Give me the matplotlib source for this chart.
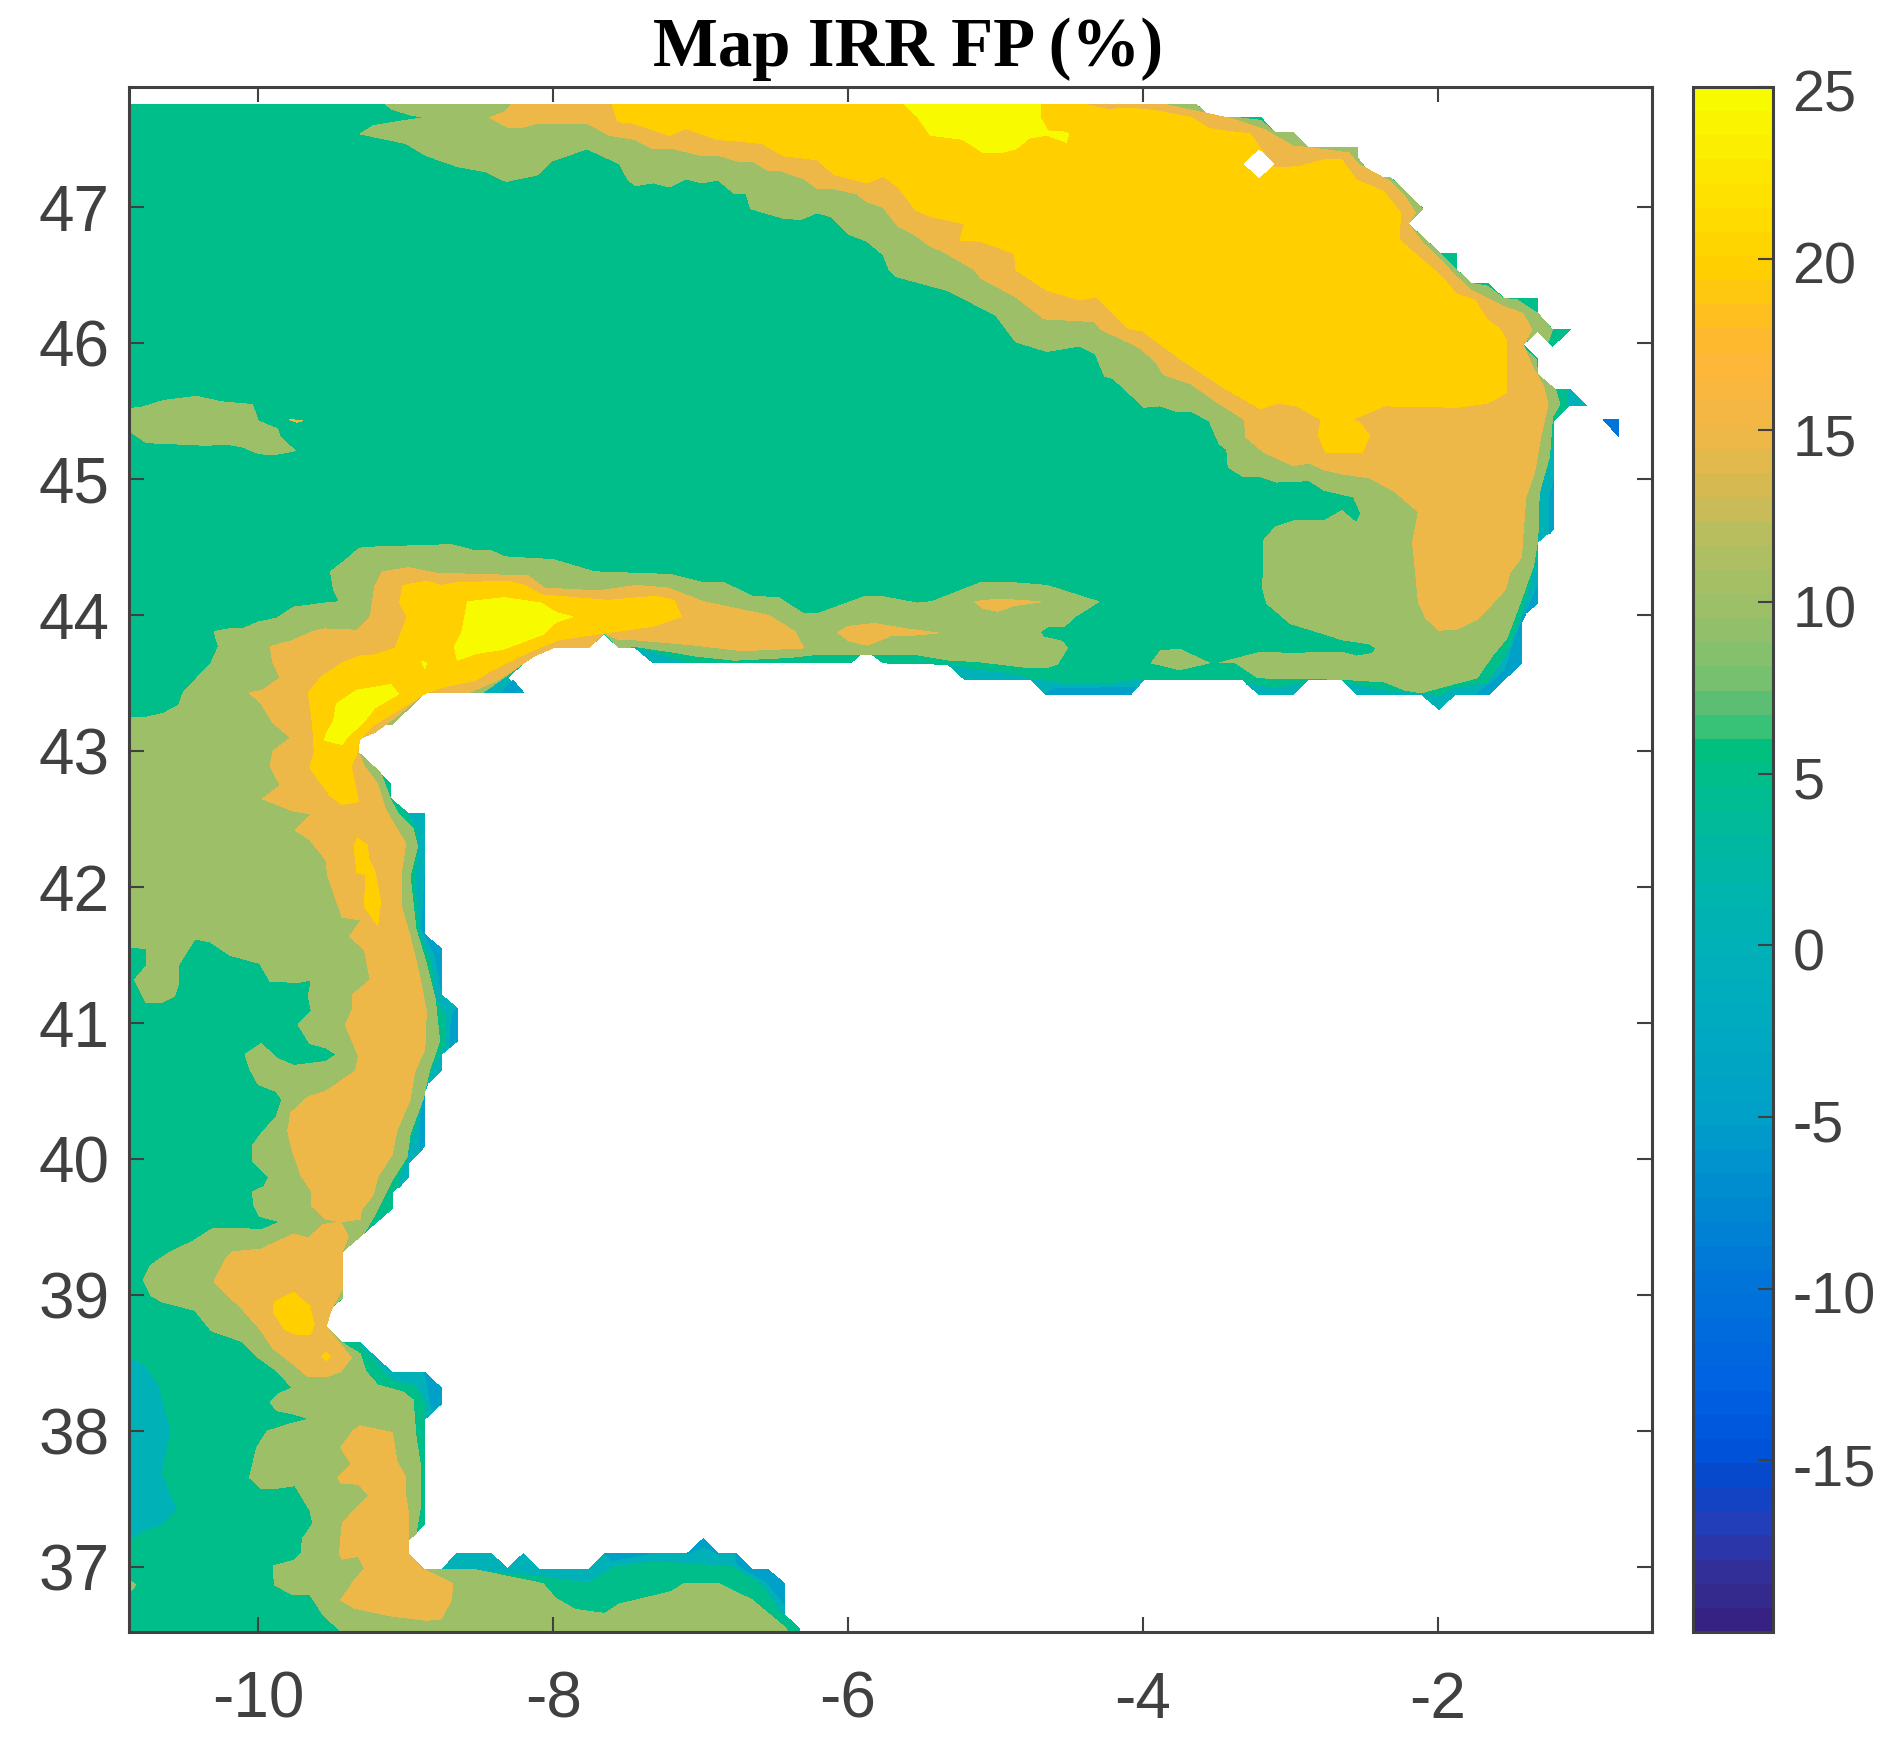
import matplotlib
matplotlib.use("Agg")
import matplotlib.pyplot as plt
from matplotlib.cm import ScalarMappable
from matplotlib.colors import LinearSegmentedColormap, Normalize
from matplotlib.transforms import ScaledTranslation

plt.rcParams['font.family'] = ['Liberation Sans', 'DejaVu Sans']
plt.rcParams['axes.unicode_minus'] = False

# Colour scale
CB_VALUES = [-20, -18.5, -17, -16, -15, -13, -10, -5, 0, 3, 5, 5.9, 6.2, 7, 8, 10, 12, 13, 15, 17, 18, 20, 22, 25]
CB_COLORS = ['#352282', '#33309A', '#2040BC', '#0A46C8', '#0052D8', '#0062E2', '#0074D8', '#00A0C8',
             '#00B2B8', '#00B8A0', '#00BE8A', '#00BF7C', '#2CC37A', '#55BE73', '#7CC06E', '#9CBF67',
             '#B5BE60', '#CCBB55', '#EEB848', '#FFB63C', '#FFBA2C', '#FFCF00', '#FFE000', '#F8FA00']
VMIN, VMAX = -20, 25
N_BANDS = 64

XTICKS = [-10, -8, -6, -4, -2]
YTICKS = [37, 38, 39, 40, 41, 42, 43, 44, 45, 46, 47]
CB_TICKS = [-15, -10, -5, 0, 5, 10, 15, 20, 25]

COAST = [(-10.88, 47.76), (-3.64, 47.76), (-3.54, 47.66), (-3.20, 47.66), (-3.10, 47.55), (-2.98, 47.55),
         (-2.88, 47.44), (-2.54, 47.44), (-2.54, 47.36), (-2.44, 47.22), (-2.32, 47.22), (-2.10, 46.99),
         (-2.20, 46.88), (-1.98, 46.66), (-1.87, 46.66), (-1.87, 46.54), (-1.77, 46.44), (-1.66, 46.44),
         (-1.55, 46.33), (-1.32, 46.33), (-1.32, 46.22), (-1.22, 46.10), (-1.10, 46.10), (-1.22, 45.98),
         (-1.32, 46.09), (-1.42, 45.99), (-1.32, 45.88), (-1.32, 45.77), (-1.21, 45.66), (-1.10, 45.66),
         (-0.99, 45.54), (-1.11, 45.54), (-1.21, 45.43), (-1.21, 44.64), (-1.32, 44.54), (-1.32, 44.09),
         (-1.43, 43.99), (-1.43, 43.65), (-1.65, 43.42), (-1.88, 43.42), (-1.99, 43.31), (-2.10, 43.42),
         (-2.55, 43.42), (-2.65, 43.53), (-2.88, 43.53), (-2.98, 43.42), (-3.21, 43.42), (-3.32, 43.53),
         (-3.99, 43.53), (-4.08, 43.42), (-4.66, 43.42), (-4.76, 43.53), (-5.21, 43.53), (-5.32, 43.64),
         (-5.76, 43.65), (-5.88, 43.75), (-5.98, 43.65), (-7.32, 43.65), (-7.44, 43.76), (-7.55, 43.76),
         (-7.66, 43.87), (-7.76, 43.76), (-8.09, 43.76), (-8.31, 43.54), (-8.20, 43.43), (-8.87, 43.43),
         (-9.09, 43.20), (-9.21, 43.20), (-9.32, 43.09), (-9.32, 42.99), (-9.10, 42.76), (-9.10, 42.65),
         (-8.98, 42.54), (-8.87, 42.54), (-8.87, 41.65), (-8.76, 41.55), (-8.76, 41.21), (-8.65, 41.11),
         (-8.65, 40.87), (-8.76, 40.77), (-8.76, 40.65), (-8.87, 40.54), (-8.87, 40.10), (-8.98, 39.97),
         (-8.98, 39.87), (-9.09, 39.76), (-9.09, 39.64), (-9.43, 39.32), (-9.43, 38.98), (-9.54, 38.87),
         (-9.54, 38.77), (-9.43, 38.65), (-9.31, 38.65), (-9.09, 38.43), (-8.87, 38.43), (-8.76, 38.32),
         (-8.76, 38.20), (-8.87, 38.09), (-8.87, 37.32), (-8.98, 37.20), (-8.98, 37.10), (-8.87, 36.98),
         (-8.76, 36.98), (-8.65, 37.10), (-8.42, 37.10), (-8.31, 36.99), (-8.20, 37.10), (-8.09, 36.98),
         (-7.76, 36.98), (-7.65, 37.10), (-7.09, 37.10), (-6.98, 37.21), (-6.88, 37.10), (-6.76, 37.10),
         (-6.65, 36.98), (-6.54, 36.98), (-6.43, 36.88), (-6.43, 36.65), (-6.33, 36.55), (-6.33, 36.52),
         (-10.88, 36.52)]

# Thin low-value fringes along the coast
ZERO_PATCHES = [
    [(-1.21, 45.26), (-1.21, 44.64), (-1.32, 44.54), (-1.32, 44.90), (-1.25, 45.07)],
    [(-1.32, 44.43), (-1.32, 44.09), (-1.43, 43.99), (-1.43, 43.65), (-1.65, 43.42), (-1.88, 43.42),
     (-1.99, 43.31), (-2.11, 43.42), (-1.99, 43.40), (-1.88, 43.46), (-1.66, 43.50), (-1.52, 43.73),
     (-1.42, 44.01)],
    [(-5.31, 43.64), (-5.21, 43.53), (-4.76, 43.53), (-4.90, 43.57), (-5.15, 43.60)],
    [(-4.76, 43.53), (-4.66, 43.42), (-4.08, 43.42), (-3.99, 43.53), (-4.20, 43.50), (-4.55, 43.50)],
    [(-3.30, 43.50), (-3.21, 43.42), (-2.98, 43.42), (-2.92, 43.50), (-3.10, 43.46)],
    [(-2.62, 43.50), (-2.55, 43.42), (-2.11, 43.42), (-2.40, 43.45)],
    [(-7.44, 43.76), (-7.32, 43.65), (-7.11, 43.65), (-7.30, 43.72)],
    [(-8.31, 43.54), (-8.20, 43.43), (-8.48, 43.43)],
    [(-8.98, 42.54), (-8.87, 42.54), (-8.87, 41.65), (-8.76, 41.55), (-8.76, 41.21), (-8.65, 41.11),
     (-8.65, 40.87), (-8.76, 40.77), (-8.76, 40.65), (-8.87, 40.54), (-8.87, 40.10), (-8.98, 39.97),
     (-8.98, 39.87), (-9.05, 39.79), (-8.96, 40.12), (-8.90, 40.35), (-8.87, 40.50), (-8.80, 40.70),
     (-8.72, 40.85), (-8.72, 41.05), (-8.80, 41.20), (-8.82, 41.45), (-8.90, 41.65), (-8.93, 42.00),
     (-8.91, 42.40)],
    [(-9.31, 38.65), (-9.09, 38.43), (-8.87, 38.43), (-8.76, 38.32), (-8.76, 38.20), (-8.87, 38.09),
     (-8.86, 38.21), (-8.93, 38.34), (-9.09, 38.38), (-9.20, 38.52)],
    [(-8.76, 36.98), (-8.65, 37.10), (-8.42, 37.10), (-8.31, 36.99), (-8.20, 37.10), (-8.09, 36.98),
     (-7.76, 36.98), (-7.65, 37.10), (-7.09, 37.10), (-6.98, 37.21), (-6.88, 37.10), (-6.76, 37.10),
     (-6.65, 36.98), (-6.54, 36.98), (-6.43, 36.88), (-6.43, 36.65), (-6.47, 36.70), (-6.57, 36.87),
     (-6.78, 37.01), (-7.30, 37.05), (-7.59, 37.01), (-7.77, 36.89), (-8.08, 36.94), (-8.50, 36.98)],
    [(-10.88, 38.54), (-10.78, 38.49), (-10.68, 38.33), (-10.60, 38.00), (-10.66, 37.69), (-10.56, 37.43),
     (-10.65, 37.32), (-10.78, 37.27), (-10.88, 37.20)],
    [(-1.11, 45.66), (-0.99, 45.54), (-1.11, 45.54)],
]
MINUS5_PATCHES = [
    [(-1.21, 44.99), (-1.21, 44.64), (-1.24, 44.60), (-1.24, 44.87)],
    [(-1.32, 44.21), (-1.32, 44.09), (-1.43, 43.99), (-1.43, 43.65), (-1.65, 43.42), (-1.73, 43.42),
     (-1.54, 43.60), (-1.46, 43.87)],
    [(-4.66, 43.42), (-4.08, 43.42), (-4.05, 43.47), (-4.60, 43.46)],
    [(-8.27, 43.52), (-8.20, 43.43), (-8.35, 43.43)],
    [(-8.87, 42.08), (-8.87, 41.65), (-8.76, 41.55), (-8.76, 41.25), (-8.80, 41.50), (-8.89, 41.70)],
    [(-8.65, 41.11), (-8.65, 40.87), (-8.70, 40.83), (-8.69, 41.05)],
    [(-8.87, 40.50), (-8.87, 40.10), (-8.90, 40.06), (-8.90, 40.30)],
    [(-8.87, 38.43), (-8.76, 38.32), (-8.76, 38.20), (-8.82, 38.16), (-8.85, 38.32)],
    [(-7.65, 37.10), (-7.35, 37.10), (-7.60, 37.05)],
    [(-7.09, 37.10), (-6.98, 37.21), (-6.88, 37.10), (-6.98, 37.15)],
    [(-6.76, 37.10), (-6.65, 36.98), (-6.54, 36.98), (-6.43, 36.88), (-6.43, 36.73), (-6.55, 36.89),
     (-6.75, 37.02)],
]
MINUS10_PATCHES = [
    [(-0.88, 45.44), (-0.77, 45.44), (-0.77, 45.31)],
]

KHAKI_NORTH = [(-9.14, 47.76), (-9.09, 47.72), (-8.97, 47.68), (-8.87, 47.66), (-9.00, 47.64), (-9.22, 47.60),
               (-9.31, 47.54), (-9.00, 47.47), (-8.86, 47.38), (-8.65, 47.30), (-8.45, 47.26), (-8.32, 47.19),
               (-8.10, 47.24), (-8.01, 47.34), (-7.77, 47.43), (-7.55, 47.32), (-7.49, 47.20), (-7.44, 47.16),
               (-7.32, 47.18), (-7.21, 47.15), (-7.10, 47.21), (-6.99, 47.18), (-6.88, 47.20), (-6.77, 47.10),
               (-6.69, 47.10), (-6.66, 46.99), (-6.44, 46.92), (-6.32, 46.91), (-6.21, 46.96), (-6.11, 46.93),
               (-5.99, 46.80), (-5.87, 46.75), (-5.76, 46.65), (-5.72, 46.54), (-5.67, 46.49), (-5.33, 46.39),
               (-5.00, 46.21), (-4.86, 46.01), (-4.65, 45.94), (-4.43, 45.98), (-4.32, 45.92), (-4.26, 45.76),
               (-4.20, 45.74), (-3.99, 45.53), (-3.88, 45.54), (-3.77, 45.50), (-3.67, 45.50), (-3.55, 45.43),
               (-3.48, 45.26), (-3.43, 45.22), (-3.42, 45.09), (-3.32, 45.02), (-3.20, 45.02), (-3.09, 44.98),
               (-2.87, 44.99), (-2.77, 44.92), (-2.57, 44.87), (-2.52, 44.75), (-2.55, 44.68), (-2.65, 44.77),
               (-2.76, 44.70), (-2.96, 44.70), (-3.10, 44.65), (-3.18, 44.55), (-3.18, 44.31), (-3.19, 44.21),
               (-3.16, 44.09), (-3.00, 43.94), (-2.70, 43.84), (-2.65, 43.82), (-2.46, 43.79), (-2.42, 43.76),
               (-2.44, 43.72), (-2.55, 43.70), (-2.65, 43.73), (-3.00, 43.72), (-3.20, 43.73), (-3.48, 43.65),
               (-3.37, 43.65), (-3.22, 43.54), (-2.65, 43.53), (-2.36, 43.51), (-2.22, 43.45), (-2.11, 43.43),
               (-2.01, 43.46), (-1.87, 43.50), (-1.73, 43.54), (-1.63, 43.70), (-1.53, 43.83), (-1.45, 44.06),
               (-1.35, 44.36), (-1.32, 44.55), (-1.31, 44.90), (-1.24, 45.17), (-1.22, 45.46), (-1.17, 45.55),
               (-1.20, 45.66), (-1.32, 45.77), (-1.33, 45.88), (-1.40, 45.95), (-1.42, 45.99), (-1.32, 46.09),
               (-1.25, 46.01), (-1.22, 46.10), (-1.32, 46.22), (-1.46, 46.32), (-1.55, 46.33), (-1.66, 46.42),
               (-1.77, 46.44), (-1.87, 46.54), (-1.98, 46.66), (-2.20, 46.88), (-2.10, 46.99), (-2.32, 47.22),
               (-2.44, 47.22), (-2.54, 47.36), (-2.54, 47.44), (-2.88, 47.44), (-2.98, 47.55), (-3.10, 47.55),
               (-3.20, 47.64), (-3.36, 47.66), (-3.54, 47.66), (-3.64, 47.76)]

KHAKI_IBERIA = [(-9.32, 44.49), (-9.28, 44.50), (-8.69, 44.52), (-8.55, 44.48), (-8.43, 44.48), (-8.33, 44.43),
                (-8.00, 44.41), (-7.72, 44.32), (-7.20, 44.30), (-6.98, 44.24), (-6.84, 44.24), (-6.65, 44.14),
                (-6.47, 44.13), (-6.30, 44.01), (-6.21, 44.01), (-5.88, 44.14), (-5.78, 44.14), (-5.53, 44.09),
                (-5.43, 44.10), (-5.10, 44.24), (-4.88, 44.24), (-4.65, 44.22), (-4.30, 44.10), (-4.46, 43.99),
                (-4.53, 43.92), (-4.64, 43.92), (-4.70, 43.875), (-4.67, 43.84), (-4.55, 43.81), (-4.51, 43.76),
                (-4.58, 43.64), (-4.64, 43.62), (-4.81, 43.62), (-5.12, 43.66), (-5.31, 43.67), (-5.53, 43.71),
                (-5.78, 43.71), (-6.23, 43.71), (-6.40, 43.69), (-6.77, 43.67), (-7.03, 43.70), (-7.19, 43.73),
                (-7.44, 43.77), (-7.55, 43.76), (-7.65, 43.87), (-7.76, 43.76), (-8.09, 43.76), (-8.20, 43.65),
                (-8.31, 43.56), (-8.48, 43.43), (-8.87, 43.43), (-9.09, 43.20), (-9.21, 43.20), (-9.32, 43.09),
                (-9.32, 42.99), (-9.17, 42.84), (-9.10, 42.64), (-9.05, 42.54), (-8.95, 42.43), (-8.92, 42.30),
                (-8.97, 42.08), (-8.93, 41.69), (-8.86, 41.44), (-8.80, 41.18), (-8.77, 40.87), (-8.84, 40.65),
                (-8.88, 40.45), (-8.97, 40.19), (-8.99, 40.02), (-9.09, 39.85), (-9.19, 39.63), (-9.28, 39.46),
                (-9.43, 39.32), (-9.43, 38.98), (-9.51, 38.91), (-9.54, 38.87), (-9.54, 38.77), (-9.43, 38.65),
                (-9.31, 38.57), (-9.27, 38.44), (-9.19, 38.34), (-9.02, 38.29), (-8.95, 38.23), (-8.93, 37.96),
                (-8.90, 37.75), (-8.90, 37.44), (-8.93, 37.25), (-8.98, 37.20), (-8.98, 37.10), (-8.87, 36.98),
                (-8.52, 36.98), (-8.07, 36.88), (-7.98, 36.77), (-7.85, 36.69), (-7.65, 36.66), (-7.55, 36.73),
                (-7.20, 36.82), (-7.11, 36.88), (-6.88, 36.88), (-6.65, 36.76), (-6.43, 36.56), (-6.40, 36.52),
                (-9.43, 36.52), (-9.56, 36.65), (-9.65, 36.80), (-9.77, 36.80), (-9.89, 36.87), (-9.90, 37.01),
                (-9.76, 37.05), (-9.71, 37.10), (-9.70, 37.21), (-9.63, 37.32), (-9.65, 37.42), (-9.75, 37.60),
                (-9.88, 37.58), (-9.98, 37.58), (-10.06, 37.66), (-10.01, 37.88), (-9.94, 38.00), (-9.80, 38.05),
                (-9.65, 38.09), (-9.77, 38.13), (-9.87, 38.15), (-9.92, 38.21), (-9.87, 38.27), (-9.77, 38.32),
                (-9.87, 38.44), (-10.01, 38.55), (-10.11, 38.66), (-10.32, 38.74), (-10.43, 38.89), (-10.65, 38.95),
                (-10.73, 39.00), (-10.78, 39.11), (-10.73, 39.22), (-10.61, 39.31), (-10.44, 39.40), (-10.31, 39.49),
                (-10.09, 39.49), (-9.98, 39.48), (-9.85, 39.54), (-9.99, 39.58), (-10.03, 39.66), (-10.04, 39.76),
                (-9.96, 39.80), (-9.93, 39.87), (-10.04, 39.99), (-10.04, 40.10), (-9.98, 40.19), (-9.88, 40.31),
                (-9.84, 40.44), (-9.88, 40.50), (-10.00, 40.55), (-10.06, 40.67), (-10.09, 40.77), (-9.98, 40.85),
                (-9.87, 40.74), (-9.76, 40.69), (-9.54, 40.72), (-9.47, 40.77), (-9.54, 40.82), (-9.65, 40.85),
                (-9.73, 40.99), (-9.64, 41.09), (-9.66, 41.20), (-9.64, 41.32), (-9.73, 41.30), (-9.92, 41.31),
                (-9.99, 41.44), (-10.19, 41.50), (-10.33, 41.60), (-10.43, 41.62), (-10.54, 41.43), (-10.54, 41.29),
                (-10.57, 41.20), (-10.66, 41.15), (-10.76, 41.15), (-10.84, 41.32), (-10.76, 41.42), (-10.76, 41.55),
                (-10.88, 41.56), (-10.88, 43.25), (-10.76, 43.25), (-10.64, 43.28), (-10.54, 43.34), (-10.51, 43.43),
                (-10.32, 43.65), (-10.27, 43.77), (-10.30, 43.88), (-10.20, 43.90), (-10.11, 43.90), (-10.00, 43.95),
                (-9.87, 43.98), (-9.76, 44.06), (-9.55, 44.09), (-9.45, 44.10), (-9.49, 44.19), (-9.51, 44.32),
                (-9.38, 44.43)]

KHAKI_WEST = [(-10.88, 45.52), (-10.79, 45.53), (-10.64, 45.58), (-10.42, 45.61), (-10.25, 45.57), (-10.04, 45.55),
              (-10.00, 45.43), (-9.87, 45.37), (-9.85, 45.31), (-9.75, 45.21), (-9.90, 45.18), (-10.00, 45.19),
              (-10.11, 45.24), (-10.23, 45.26), (-10.35, 45.25), (-10.76, 45.27), (-10.88, 45.36)]
KHAKI_LENS = [(-3.88, 43.74), (-3.75, 43.75), (-3.55, 43.65), (-3.75, 43.60), (-3.94, 43.65)]
KHAKI_CORNER = [(-10.88, 36.91), (-10.83, 36.87), (-10.88, 36.81)]

ORANGE_NORTH = [(-8.28, 47.76), (-8.33, 47.70), (-8.43, 47.66), (-8.31, 47.59), (-8.20, 47.59), (-8.10, 47.62),
                (-7.77, 47.62), (-7.62, 47.53), (-7.45, 47.50), (-7.32, 47.43), (-7.18, 47.43), (-6.99, 47.38),
                (-6.87, 47.38), (-6.75, 47.34), (-6.65, 47.34), (-6.54, 47.27), (-6.46, 47.27), (-6.30, 47.21),
                (-6.21, 47.14), (-6.11, 47.14), (-5.94, 47.10), (-5.87, 47.04), (-5.76, 47.00), (-5.66, 46.86),
                (-5.55, 46.80), (-5.45, 46.72), (-5.33, 46.66), (-5.14, 46.54), (-5.10, 46.48), (-4.86, 46.34),
                (-4.67, 46.18), (-4.33, 46.16), (-4.28, 46.10), (-4.08, 46.00), (-4.01, 45.96), (-3.91, 45.86),
                (-3.86, 45.77), (-3.67, 45.70), (-3.50, 45.57), (-3.31, 45.44), (-3.30, 45.31), (-3.18, 45.20),
                (-2.98, 45.10), (-2.87, 45.12), (-2.77, 45.07), (-2.65, 45.04), (-2.46, 45.01), (-2.29, 44.91),
                (-2.13, 44.76), (-2.17, 44.54), (-2.15, 44.33), (-2.13, 44.10), (-2.08, 43.98), (-1.99, 43.89),
                (-1.86, 43.90), (-1.73, 43.97), (-1.65, 44.06), (-1.54, 44.19), (-1.51, 44.31), (-1.43, 44.43),
                (-1.42, 44.60), (-1.40, 44.87), (-1.34, 45.06), (-1.30, 45.31), (-1.25, 45.55), (-1.28, 45.68),
                (-1.36, 45.84), (-1.42, 45.99), (-1.36, 46.10), (-1.42, 46.22), (-1.55, 46.27), (-1.77, 46.39),
                (-1.87, 46.49), (-1.97, 46.60), (-2.10, 46.74), (-2.20, 46.88), (-2.15, 46.96), (-2.22, 47.08),
                (-2.32, 47.19), (-2.54, 47.32), (-2.60, 47.40), (-2.87, 47.44), (-2.98, 47.45), (-3.17, 47.57),
                (-3.39, 47.65), (-3.56, 47.69), (-3.74, 47.73), (-3.86, 47.76)]

ORANGE_IBERIA = [(-9.16, 44.32), (-8.98, 44.35), (-8.79, 44.31), (-8.17, 44.29), (-8.06, 44.20), (-7.69, 44.18),
                 (-7.43, 44.22), (-7.22, 44.20), (-6.98, 44.10), (-6.54, 44.00), (-6.36, 43.88), (-6.30, 43.76),
                 (-6.72, 43.74), (-7.03, 43.78), (-7.44, 43.82), (-7.55, 43.82), (-7.66, 43.87), (-7.76, 43.76),
                 (-8.00, 43.76), (-8.13, 43.70), (-8.38, 43.52), (-8.58, 43.43), (-8.87, 43.43), (-9.07, 43.25),
                 (-9.21, 43.14), (-9.32, 43.09), (-9.32, 42.99), (-9.28, 42.89), (-9.19, 42.76), (-9.14, 42.58),
                 (-9.11, 42.52), (-9.00, 42.32), (-9.03, 42.10), (-9.03, 41.86), (-8.97, 41.64), (-8.91, 41.37),
                 (-8.86, 41.09), (-8.87, 40.81), (-8.94, 40.64), (-8.97, 40.44), (-9.06, 40.21), (-9.09, 40.04),
                 (-9.19, 39.87), (-9.22, 39.74), (-9.30, 39.63), (-9.31, 39.56), (-9.44, 39.54), (-9.54, 39.56),
                 (-9.64, 39.66), (-9.64, 39.77), (-9.71, 39.88), (-9.77, 40.07), (-9.80, 40.21), (-9.78, 40.34),
                 (-9.66, 40.46), (-9.54, 40.50), (-9.34, 40.65), (-9.32, 40.76), (-9.41, 40.99), (-9.36, 41.10),
                 (-9.36, 41.21), (-9.24, 41.32), (-9.28, 41.54), (-9.38, 41.64), (-9.30, 41.76), (-9.43, 41.78),
                 (-9.53, 42.09), (-9.54, 42.20), (-9.65, 42.35), (-9.75, 42.42), (-9.64, 42.54), (-9.76, 42.56),
                 (-9.97, 42.65), (-9.85, 42.75), (-9.92, 42.89), (-9.90, 43.00), (-9.78, 43.10), (-9.90, 43.21),
                 (-9.98, 43.35), (-10.06, 43.43), (-9.97, 43.45), (-9.85, 43.54), (-9.90, 43.65), (-9.92, 43.77),
                 (-9.78, 43.81), (-9.63, 43.88), (-9.55, 43.90), (-9.33, 43.89), (-9.24, 43.99), (-9.21, 44.21)]

ORANGE_LISBON = [(-9.44, 39.54), (-9.39, 39.43), (-9.43, 39.32), (-9.43, 39.05), (-9.51, 38.88), (-9.54, 38.77),
                 (-9.37, 38.54), (-9.44, 38.44), (-9.54, 38.40), (-9.66, 38.40), (-9.77, 38.50), (-9.90, 38.61),
                 (-9.98, 38.74), (-10.11, 38.90), (-10.30, 39.10), (-10.22, 39.27), (-10.17, 39.32), (-9.98, 39.34),
                 (-9.76, 39.45), (-9.66, 39.42), (-9.56, 39.52)]
ORANGE_SOUTH = [(-9.31, 38.04), (-9.09, 37.99), (-9.06, 37.78), (-9.00, 37.66), (-9.00, 37.53), (-8.98, 37.39),
                (-8.98, 37.21), (-8.98, 37.10), (-8.89, 36.99), (-8.68, 36.88), (-8.69, 36.76), (-8.76, 36.62),
                (-8.86, 36.61), (-9.09, 36.64), (-9.35, 36.70), (-9.44, 36.76), (-9.35, 36.90), (-9.28, 36.99),
                (-9.32, 37.08), (-9.43, 37.06), (-9.45, 37.10), (-9.43, 37.32), (-9.35, 37.42), (-9.25, 37.53),
                (-9.32, 37.61), (-9.44, 37.62), (-9.46, 37.66), (-9.37, 37.76), (-9.44, 37.88), (-9.36, 38.00)]
ORANGE_SLIVER_A = [(-5.14, 44.10), (-4.98, 44.12), (-4.69, 44.10), (-4.88, 44.07), (-4.98, 44.03), (-5.08, 44.05)]
ORANGE_SLIVER_B = [(-6.07, 43.875), (-5.99, 43.92), (-5.82, 43.94), (-5.60, 43.90), (-5.39, 43.87), (-5.60, 43.85),
                   (-5.71, 43.85), (-5.87, 43.78), (-5.99, 43.81)]
ORANGE_DOT = [(-9.79, 45.44), (-9.70, 45.43), (-9.74, 45.42)]

GOLD_NORTH = [(-7.60, 47.76), (-7.56, 47.63), (-7.46, 47.62), (-7.21, 47.53), (-7.10, 47.58), (-6.89, 47.50),
              (-6.58, 47.47), (-6.44, 47.38), (-6.21, 47.35), (-6.09, 47.24), (-5.87, 47.18), (-5.76, 47.23),
              (-5.66, 47.15), (-5.54, 46.98), (-5.43, 46.93), (-5.21, 46.88), (-5.24, 46.76), (-5.10, 46.75),
              (-4.87, 46.66), (-4.86, 46.54), (-4.65, 46.39), (-4.43, 46.32), (-4.31, 46.34), (-4.10, 46.11),
              (-4.00, 46.09), (-3.75, 45.89), (-3.43, 45.66), (-3.20, 45.52), (-3.08, 45.56), (-2.96, 45.54),
              (-2.79, 45.44), (-2.81, 45.33), (-2.76, 45.20), (-2.51, 45.20), (-2.46, 45.32), (-2.53, 45.42),
              (-2.58, 45.44), (-2.36, 45.54), (-1.87, 45.53), (-1.66, 45.56), (-1.53, 45.64), (-1.53, 45.78),
              (-1.53, 46.02), (-1.58, 46.11), (-1.66, 46.17), (-1.75, 46.32), (-1.87, 46.36), (-1.98, 46.50),
              (-2.10, 46.61), (-2.26, 46.76), (-2.25, 46.96), (-2.37, 47.12), (-2.55, 47.20), (-2.65, 47.35),
              (-2.77, 47.35), (-2.94, 47.30), (-3.11, 47.29), (-3.27, 47.54), (-3.43, 47.56), (-3.55, 47.58),
              (-3.67, 47.66), (-3.91, 47.71), (-4.08, 47.73), (-4.24, 47.72), (-4.41, 47.76)]
GOLD_GALICIA = [(-9.02, 44.22), (-8.86, 44.25), (-8.76, 44.22), (-8.65, 44.24), (-8.31, 44.25), (-8.19, 44.22),
                (-8.08, 44.15), (-7.63, 44.11), (-7.30, 44.14), (-7.18, 44.11), (-7.13, 43.99), (-7.32, 43.92),
                (-7.65, 43.87), (-7.96, 43.82), (-8.10, 43.76), (-8.26, 43.68), (-8.41, 43.60), (-8.53, 43.52),
                (-8.72, 43.48), (-8.86, 43.43), (-8.98, 43.35), (-9.10, 43.27), (-9.21, 43.20), (-9.31, 43.09),
                (-9.33, 42.99), (-9.37, 42.89), (-9.32, 42.63), (-9.43, 42.61), (-9.51, 42.67), (-9.65, 42.88),
                (-9.62, 42.99), (-9.63, 43.18), (-9.66, 43.43), (-9.57, 43.55), (-9.43, 43.65), (-9.31, 43.70),
                (-9.21, 43.71), (-9.07, 43.76), (-8.99, 43.99), (-9.04, 44.09)]
GOLD_COAST = [(-9.33, 42.36), (-9.26, 42.31), (-9.25, 42.21), (-9.21, 42.12), (-9.17, 41.89), (-9.19, 41.72),
              (-9.28, 41.86), (-9.27, 42.09), (-9.33, 42.11), (-9.35, 42.30)]
GOLD_LISBON = [(-9.89, 38.95), (-9.76, 39.02), (-9.65, 38.92), (-9.62, 38.78), (-9.65, 38.71), (-9.74, 38.71),
               (-9.82, 38.75), (-9.90, 38.88)]
GOLD_DOT = [(-9.54, 38.58), (-9.51, 38.55), (-9.54, 38.52), (-9.57, 38.55)]

YELLOW_NORTH = [(-5.62, 47.76), (-5.53, 47.67), (-5.44, 47.53), (-5.22, 47.50), (-5.08, 47.40), (-4.97, 47.40),
                (-4.86, 47.43), (-4.77, 47.51), (-4.65, 47.53), (-4.52, 47.48), (-4.50, 47.54), (-4.55, 47.56),
                (-4.64, 47.56), (-4.69, 47.65), (-4.69, 47.76)]
YELLOW_GALICIA = [(-8.58, 44.10), (-8.33, 44.13), (-8.08, 44.09), (-7.98, 44.02), (-7.87, 43.99), (-7.98, 43.95),
                  (-8.07, 43.86), (-8.24, 43.79), (-8.34, 43.75), (-8.52, 43.72), (-8.65, 43.67), (-8.67, 43.77),
                  (-8.62, 43.87)]
YELLOW_CAPE = [(-9.33, 43.45), (-9.10, 43.49), (-9.05, 43.42), (-9.21, 43.32), (-9.28, 43.22), (-9.40, 43.10),
               (-9.43, 43.05), (-9.55, 43.08), (-9.54, 43.13), (-9.49, 43.22), (-9.47, 43.35), (-9.40, 43.40)]
YELLOW_DOT = [(-8.89, 43.66), (-8.86, 43.65), (-8.87, 43.61)]

# Cell without data inside the bay
HOLE = [(-3.21, 47.42), (-3.11, 47.32), (-3.21, 47.22), (-3.31, 47.32)]

# colormap built from the colour bar anchors
norm = Normalize(VMIN, VMAX)
positions = [(v - VMIN) / (VMAX - VMIN) for v in CB_VALUES]
base_cmap = LinearSegmentedColormap.from_list('bar', list(zip(positions, CB_COLORS)), N=1024)
band_cmap = base_cmap.resampled(N_BANDS)

layers = [
    (5, [COAST]),
    (0, ZERO_PATCHES),
    (-5, MINUS5_PATCHES),
    (-10, MINUS10_PATCHES),
    (10, [KHAKI_NORTH, KHAKI_IBERIA, KHAKI_WEST, KHAKI_LENS, KHAKI_CORNER]),
    (15, [ORANGE_NORTH, ORANGE_IBERIA, ORANGE_LISBON, ORANGE_SOUTH, ORANGE_SLIVER_A, ORANGE_SLIVER_B, ORANGE_DOT]),
    (20, [GOLD_NORTH, GOLD_GALICIA, GOLD_COAST, GOLD_LISBON, GOLD_DOT]),
    (25, [YELLOW_NORTH, YELLOW_GALICIA, YELLOW_CAPE, YELLOW_DOT]),
]

W, H = 1895, 1753
fig = plt.figure(figsize=(W / 100, H / 100), dpi=100)
ax = fig.add_axes([129 / W, (H - 1632) / H, 1523 / W, 1545 / H])
cax = fig.add_axes([1693 / W, (H - 1632) / H, 80 / W, 1545 / H])

for value, polys in layers:
    for poly in polys:
        lon, lat = zip(*poly)
        ax.fill(lon, lat, color=base_cmap(norm(value)), lw=0, antialiased=False)
lon, lat = zip(*HOLE)
ax.fill(lon, lat, color='white', lw=0, antialiased=False)

grey = '#404040'
ax.set_xlim(-10.877, -0.545)
ax.set_ylim(36.524, 47.885)
ax.set_xticks(XTICKS)
ax.set_yticks(YTICKS)
ax.tick_params(axis='x', direction='in', top=True, bottom=True, length=10.8, width=1.5, color=grey,
               labelcolor=grey, labelsize=46, pad=28)
ax.tick_params(axis='y', direction='in', left=True, right=True, length=10.8, width=1.5, color=grey,
               labelcolor=grey, labelsize=46, pad=14)
for s in ax.spines.values():
    s.set_linewidth(2.2)
    s.set_color(grey)

cb = fig.colorbar(ScalarMappable(norm=norm, cmap=band_cmap), cax=cax)
cb.set_ticks(CB_TICKS)
cb.ax.tick_params(direction='in', length=10.8, width=1.5, color=grey, labelcolor=grey, labelsize=41.5, pad=14)
cb.outline.set_linewidth(2.2)
cb.outline.set_edgecolor(grey)

# bar labels sit a little below their ticks in the original
shift = ScaledTranslation(0, -4 / 100, fig.dpi_scale_trans)
for tick in cb.ax.yaxis.get_major_ticks():
    tick.label2.set_transform(tick.label2.get_transform() + shift)

fig.text(908 / W, (H - 66) / H, 'Map IRR FP (%)', family=['Liberation Serif'], fontweight='bold',
         fontsize=49.5, ha='center', va='baseline', color='black')

fig.savefig('out.png', dpi=100)
